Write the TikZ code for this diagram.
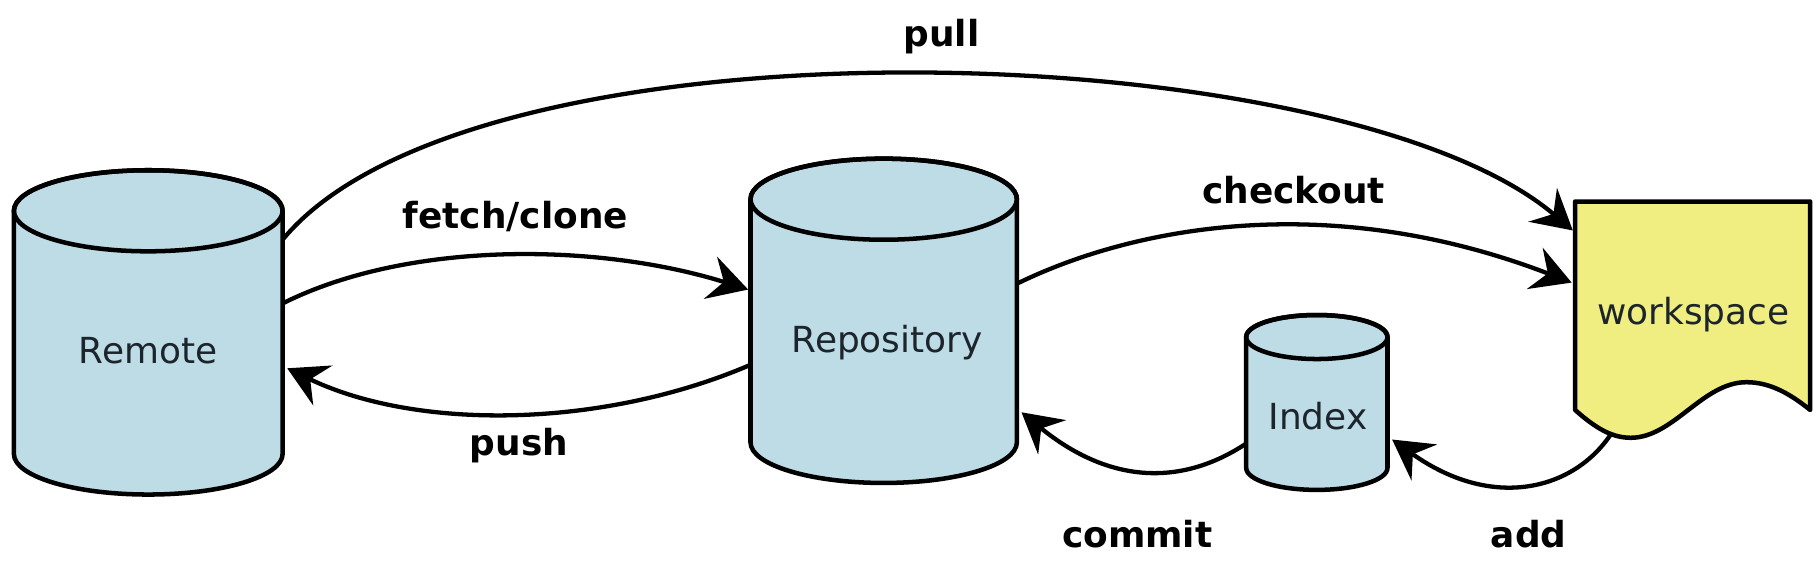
\documentclass[tikz,border=0pt]{standalone}
\usepackage{fontspec}
\setmainfont{DejaVu Sans}
\usetikzlibrary{arrows.meta}
\definecolor{cylblue}{RGB}{190,220,230}
\definecolor{wsyellow}{RGB}{240,238,128}
\definecolor{inktext}{RGB}{28,36,44}
\newcommand{\mycyl}[6]{% name, cx, ytop, ybot, rx, ry
  \path[shapeline,fill=cylblue] (#2-#5,#3) -- (#2-#5,#4)
    arc[start angle=180,end angle=360,x radius=#5,y radius=#6]
    -- (#2+#5,#3) arc[start angle=0,end angle=180,x radius=#5,y radius=#6] -- cycle;
  \draw[shapeline] (#2,#3) ellipse[x radius=#5,y radius=#6];
  \node[hitbox,minimum width={2*#5*1pt},minimum height={(#3-#4)*1pt}] (#1) at (#2,{(#3+#4)/2}) {};
}
\begin{document}
\begin{tikzpicture}[x=1pt,y=1pt,
  shapeline/.style={draw=black,line width=3.9pt,line join=round},
  hitbox/.style={draw=none,inner sep=0pt,outer sep=0pt,rectangle},
  nodetext/.style={font=\fontsize{31}{36}\selectfont,text=inktext,anchor=base,inner sep=0pt},
  lab/.style={font=\fontsize{31}{36}\selectfont\bfseries,anchor=base,inner sep=0pt},
  conn/.style={line width=3.7pt,-{Stealth[length=34pt,width=38pt,inset=12pt]}}]
\useasboundingbox (0,0) rectangle (1568,487);
% cylinders
\mycyl{remote}{128}{305}{95}{116}{35}
\mycyl{repo}{763}{315}{105}{115}{35}
\mycyl{index}{1137}{196}{83}{61}{19}
% workspace
\path[shapeline,fill=wsyellow] (1360,313) -- (1563,313) -- (1563,133)
  .. controls (1548,145) and (1530,157) .. (1508,157)
  .. controls (1470,157) and (1445,109) .. (1408,109)
  .. controls (1392,109) and (1378,117) .. (1360,133) -- cycle;
\node[hitbox,minimum width=203pt,minimum height=180pt] (workspace) at (1461.5,223) {};
% node texts
\node[nodetext] (remotetext) at (128,173) {Remote};
\node[nodetext] (repotext) at (766,183) {Repository};
\node[nodetext] (indextext) at (1138,116) {Index};
\node[nodetext] (wstext) at (1462,207) {workspace};
% connectors
\draw[conn] ([yshift=80pt]remote.east) .. controls +(165,200) and +(-200,170) .. ([xshift=-2pt,yshift=65pt]workspace.west);
\draw[conn] ([yshift=25pt]remote.east) .. controls +(110,55) and +(-128,40) .. ([xshift=-2pt,yshift=27pt]repo.west);
\draw[conn] ([yshift=-38pt]repo.west) .. controls +(-128,-55) and +(112,-54) .. ([xshift=4pt,yshift=-31pt]remote.east);
\draw[conn] ([yshift=32pt]repo.east) .. controls +(102,50) and +(-208,80) .. ([xshift=-3pt,yshift=20pt]workspace.west);
\draw[conn] ([yshift=-35.5pt]index.west) .. controls +(-56,-37) and +(76,-62) .. ([xshift=4pt,yshift=-79pt]repo.east);
\draw[conn] ([xshift=-70pt,yshift=-20pt]workspace.south) .. controls +(-32,-49) and +(87,-62) .. ([xshift=4pt,yshift=-32pt]index.east);
% labels
\node[lab] (pull) at (813,446.5) {pull};
\node[lab] (fetch) at (445,290) {fetch/clone};
\node[lab] (push) at (448,94) {push};
\node[lab] (checkout) at (1117,311) {checkout};
\node[lab] (commit) at (982,14) {commit};
\node[lab] (add) at (1320,14) {add};
\end{tikzpicture}
\end{document}
